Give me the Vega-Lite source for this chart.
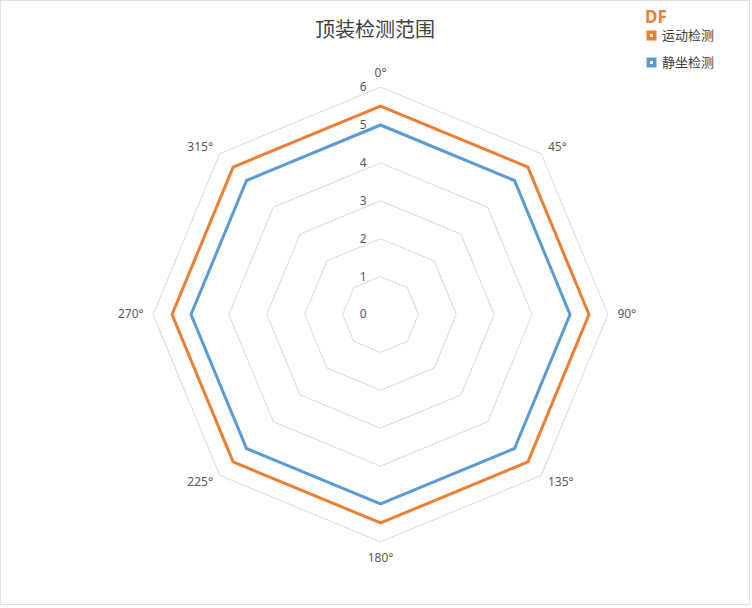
{
  "$schema": "https://vega.github.io/schema/vega-lite/v6.json",
  "width": 750,
  "height": 605,
  "autosize": "none",
  "padding": 0,
  "background": "white",
  "config": {
    "font": "Noto Sans CJK SC",
    "view": {"stroke": "#d9d9d9", "strokeWidth": 1.5}
  },
  "title": {
    "text": "顶装检测范围",
    "fontSize": 20,
    "fontWeight": "normal",
    "color": "#404040",
    "anchor": "middle",
    "frame": "group",
    "offset": -41
  },
  "datasets": {
    "rings": [
      {"ring": 1, "angle": [0, 45, 90, 135, 180, 225, 270, 315]},
      {"ring": 2, "angle": [0, 45, 90, 135, 180, 225, 270, 315]},
      {"ring": 3, "angle": [0, 45, 90, 135, 180, 225, 270, 315]},
      {"ring": 4, "angle": [0, 45, 90, 135, 180, 225, 270, 315]},
      {"ring": 5, "angle": [0, 45, 90, 135, 180, 225, 270, 315]},
      {"ring": 6, "angle": [0, 45, 90, 135, 180, 225, 270, 315]}
    ],
    "ranges": [
      {"series": "运动检测", "angle": 0, "value": 5.5},
      {"series": "运动检测", "angle": 45, "value": 5.5},
      {"series": "运动检测", "angle": 90, "value": 5.5},
      {"series": "运动检测", "angle": 135, "value": 5.5},
      {"series": "运动检测", "angle": 180, "value": 5.5},
      {"series": "运动检测", "angle": 225, "value": 5.5},
      {"series": "运动检测", "angle": 270, "value": 5.5},
      {"series": "运动检测", "angle": 315, "value": 5.5},
      {"series": "静坐检测", "angle": 0, "value": 5},
      {"series": "静坐检测", "angle": 45, "value": 5},
      {"series": "静坐检测", "angle": 90, "value": 5},
      {"series": "静坐检测", "angle": 135, "value": 5},
      {"series": "静坐检测", "angle": 180, "value": 5},
      {"series": "静坐检测", "angle": 225, "value": 5},
      {"series": "静坐检测", "angle": 270, "value": 5},
      {"series": "静坐检测", "angle": 315, "value": 5}
    ],
    "ticks": [
      {"tick": 0}, {"tick": 1}, {"tick": 2}, {"tick": 3},
      {"tick": 4}, {"tick": 5}, {"tick": 6}
    ],
    "angles": [
      {"angle": 0, "label": "0°"},
      {"angle": 45, "label": "45°"},
      {"angle": 90, "label": "90°"},
      {"angle": 135, "label": "135°"},
      {"angle": 180, "label": "180°"},
      {"angle": 225, "label": "225°"},
      {"angle": 270, "label": "270°"},
      {"angle": 315, "label": "315°"}
    ]
  },
  "encoding": {
    "x": {
      "field": "x",
      "type": "quantitative",
      "scale": {"domain": [-10.04, 9.749], "nice": false, "zero": false},
      "axis": null
    },
    "y": {
      "field": "y",
      "type": "quantitative",
      "scale": {"domain": [-7.665, 8.298], "nice": false, "zero": false},
      "axis": null
    }
  },
  "layer": [
    {
      "data": {"name": "rings"},
      "transform": [
        {"flatten": ["angle"]},
        {"calculate": "datum.ring * sin(datum.angle * PI / 180)", "as": "x"},
        {"calculate": "datum.ring * cos(datum.angle * PI / 180)", "as": "y"}
      ],
      "mark": {
        "type": "line",
        "interpolate": "linear-closed",
        "stroke": "#d9d9d9",
        "strokeWidth": 1
      },
      "encoding": {
        "detail": {"field": "ring", "type": "nominal"},
        "order": {"field": "angle", "type": "quantitative"}
      }
    },
    {
      "data": {"name": "ranges"},
      "transform": [
        {"calculate": "datum.value * sin(datum.angle * PI / 180)", "as": "x"},
        {"calculate": "datum.value * cos(datum.angle * PI / 180)", "as": "y"}
      ],
      "mark": {"type": "line", "interpolate": "linear-closed", "strokeWidth": 3},
      "encoding": {
        "color": {
          "field": "series",
          "type": "nominal",
          "scale": {
            "domain": ["运动检测", "静坐检测"],
            "range": ["#ed7d31", "#5b9bd5"]
          },
          "legend": {
            "title": "DF",
            "titleColor": "#ed7d31",
            "titleFontSize": 17,
            "titleFontWeight": "bold",
            "titleFont": "Noto Sans",
            "titlePadding": 2,
            "orient": "none",
            "legendX": 645,
            "legendY": 10,
            "symbolType": "square",
            "symbolSize": 42,
            "symbolStrokeWidth": 3.5,
            "symbolFillColor": "white",
            "labelFontSize": 13,
            "labelColor": "#404040",
            "labelOffset": 4,
            "rowPadding": 6
          }
        },
        "order": {"field": "angle", "type": "quantitative"}
      }
    },
    {
      "data": {"name": "ticks"},
      "transform": [
        {"calculate": "0", "as": "x"},
        {"calculate": "datum.tick", "as": "y"}
      ],
      "mark": {
        "type": "text",
        "align": "right",
        "baseline": "middle",
        "dx": -14,
        "fontSize": 12,
        "font": "Noto Sans",
        "color": "#595959"
      },
      "encoding": {"text": {"field": "tick", "type": "quantitative"}}
    },
    {
      "data": {"name": "angles"},
      "transform": [
        {"filter": "datum.angle > 0 && datum.angle < 180"},
        {"calculate": "6.25 * sin(datum.angle * PI / 180)", "as": "x"},
        {"calculate": "6.25 * cos(datum.angle * PI / 180)", "as": "y"}
      ],
      "mark": {
        "type": "text",
        "align": "left",
        "baseline": "middle",
        "fontSize": 12,
        "font": "Noto Sans",
        "color": "#595959"
      },
      "encoding": {"text": {"field": "label", "type": "nominal"}}
    },
    {
      "data": {"name": "angles"},
      "transform": [
        {"filter": "datum.angle > 180"},
        {"calculate": "6.25 * sin(datum.angle * PI / 180)", "as": "x"},
        {"calculate": "6.25 * cos(datum.angle * PI / 180)", "as": "y"}
      ],
      "mark": {
        "type": "text",
        "align": "right",
        "baseline": "middle",
        "fontSize": 12,
        "font": "Noto Sans",
        "color": "#595959"
      },
      "encoding": {"text": {"field": "label", "type": "nominal"}}
    },
    {
      "data": {"name": "angles"},
      "transform": [
        {"filter": "datum.angle == 0"},
        {"calculate": "0", "as": "x"},
        {"calculate": "6.25", "as": "y"}
      ],
      "mark": {
        "type": "text",
        "align": "center",
        "baseline": "bottom",
        "dy": 2,
        "fontSize": 12,
        "font": "Noto Sans",
        "color": "#595959"
      },
      "encoding": {"text": {"field": "label", "type": "nominal"}}
    },
    {
      "data": {"name": "angles"},
      "transform": [
        {"filter": "datum.angle == 180"},
        {"calculate": "0", "as": "x"},
        {"calculate": "-6.25", "as": "y"}
      ],
      "mark": {
        "type": "text",
        "align": "center",
        "baseline": "top",
        "dy": 2,
        "fontSize": 12,
        "font": "Noto Sans",
        "color": "#595959"
      },
      "encoding": {"text": {"field": "label", "type": "nominal"}}
    }
  ]
}
